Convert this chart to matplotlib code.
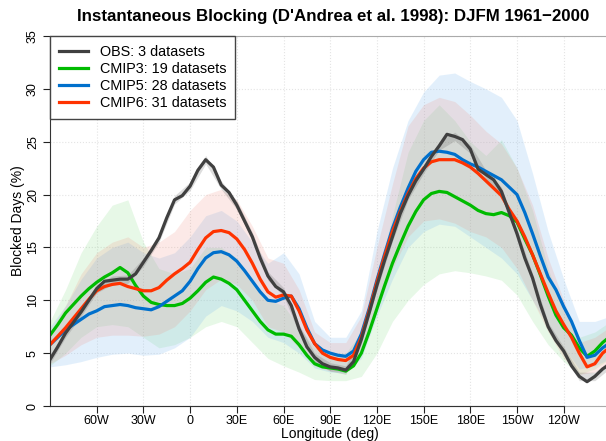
import matplotlib
matplotlib.use("Agg")
import matplotlib.pyplot as plt

# longitudes (deg east, 180..270 = 180W..90W)
lon = list(range(-90, 271, 5))
lon_band = list(range(-90, 271, 10))

obs = [4.4, 5.6, 6.9, 7.9, 8.9, 10.0, 11.1, 11.8, 11.9, 12.0, 12.0, 12.5, 13.6, 14.7, 15.9,
       17.8, 19.5, 19.9, 20.8, 22.3, 23.3, 22.6, 20.9, 20.2, 19.0, 17.5, 16.0, 14.0, 12.3,
       11.3, 10.8, 9.5, 7.3, 5.6, 4.6, 4.0, 3.7, 3.6, 3.4, 4.2, 6.3, 8.8, 11.4, 13.8, 16.0,
       18.2, 19.9, 21.3, 22.4, 23.6, 24.6, 25.7, 25.5, 25.2, 24.3, 22.4, 21.9, 21.4, 20.3,
       18.3, 16.3, 14.0, 12.1, 9.6, 7.5, 6.2, 5.2, 3.8, 2.8, 2.3, 2.8, 3.5, 4.0]
cmip3 = [6.7, 7.7, 8.8, 9.6, 10.4, 11.1, 11.7, 12.2, 12.6, 13.1, 12.6, 11.4, 10.4, 9.8, 9.6,
         9.5, 9.5, 9.7, 10.2, 10.9, 11.7, 12.2, 12.0, 11.6, 11.0, 10.0, 9.0, 8.0, 7.2,
         6.8, 6.8, 6.6, 5.8, 4.8, 4.0, 3.7, 3.6, 3.5, 3.3, 3.8, 5.0, 7.0, 9.2, 11.4, 13.5,
         15.3, 17.0, 18.4, 19.5, 20.1, 20.3, 20.2, 19.8, 19.4, 19.0, 18.5, 18.2, 18.1, 18.3,
         18.0, 17.4, 15.8, 14.3, 12.4, 10.4, 8.6, 7.4, 6.7, 5.5, 4.7, 5.2, 6.0, 6.6]
cmip5 = [5.8, 6.5, 7.2, 7.7, 8.2, 8.7, 9.0, 9.4, 9.5, 9.6, 9.5, 9.3, 9.2, 9.1, 9.4,
         9.9, 10.4, 10.9, 11.8, 13.0, 14.0, 14.5, 14.6, 14.3, 13.7, 12.8, 11.8, 10.8, 10.0,
         9.9, 10.2, 10.4, 9.2, 7.4, 5.9, 5.3, 5.0, 4.8, 4.7, 5.2, 6.8, 9.2, 11.9, 14.4, 16.8,
         18.8, 20.6, 22.2, 23.3, 24.0, 24.1, 24.0, 23.8, 23.3, 22.9, 22.6, 22.2, 21.8, 21.4,
         20.7, 20.0, 18.3, 16.3, 14.2, 12.2, 11.0, 9.4, 8.0, 6.2, 4.6, 4.8, 5.5, 6.0]
cmip6 = [5.8, 6.6, 7.4, 8.3, 9.2, 10.1, 10.9, 11.3, 11.5, 11.6, 11.3, 11.1, 10.9, 10.9, 11.2,
         11.9, 12.5, 13.0, 13.6, 14.8, 15.9, 16.5, 16.6, 16.4, 15.8, 14.8, 13.5, 12.0, 10.8,
         10.3, 10.5, 10.4, 9.0, 7.2, 5.9, 5.0, 4.6, 4.4, 4.3, 4.8, 6.5, 9.0, 11.7, 14.2, 16.5,
         18.4, 20.1, 21.5, 22.5, 23.1, 23.3, 23.3, 23.3, 23.0, 22.6, 22.0, 21.3, 20.6, 19.9,
         18.6, 17.5, 16.0, 14.3, 12.5, 10.7, 9.0, 7.7, 6.5, 5.0, 3.7, 4.0, 5.0, 5.6]

# spread bands (10 deg steps)
obs_lo = [4.0, 6.5, 8.5, 10.7, 11.5, 11.6, 13.2, 15.5, 19.1, 20.4, 22.9, 20.5, 18.6, 15.6,
          11.9, 10.4, 6.9, 4.2, 3.3, 3.0, 5.9, 11.0, 15.6, 19.5, 22.0, 24.2, 25.1, 23.9,
          21.5, 19.9, 15.9, 11.7, 7.1, 4.8, 2.4, 2.4, 3.6]
obs_hi = [4.8, 7.3, 9.3, 11.5, 12.3, 12.4, 14.0, 16.3, 19.9, 21.2, 23.7, 21.3, 19.4, 16.4,
          12.7, 11.2, 7.7, 5.0, 4.1, 3.8, 6.7, 11.8, 16.4, 20.3, 22.8, 25.0, 25.9, 24.7,
          22.3, 20.7, 16.7, 12.5, 7.9, 5.6, 3.2, 3.2, 4.4]
cmip3_lo = [3.8, 5.0, 6.5, 7.5, 7.7, 7.5, 6.5, 5.5, 5.8, 6.5, 7.5, 8.0, 7.5, 6.0, 4.5, 3.8,
            3.2, 2.5, 2.4, 2.4, 2.8, 5.0, 8.0, 10.0, 11.5, 12.5, 12.8, 12.6, 12.3, 11.9,
            10.5, 8.0, 5.8, 4.2, 3.0, 3.5, 4.5]
cmip3_hi = [8.0, 11.0, 14.5, 17.0, 19.0, 19.5, 15.5, 13.0, 12.5, 13.0, 15.0, 15.0, 14.0,
            12.0, 10.0, 9.5, 7.5, 5.5, 5.0, 5.0, 7.0, 12.0, 18.0, 24.0, 27.0, 28.5, 27.0,
            25.0, 23.7, 25.2, 22.5, 18.5, 13.0, 9.0, 6.5, 7.0, 8.0]
cmip5_lo = [3.7, 3.9, 4.2, 4.6, 4.9, 5.0, 4.8, 4.9, 5.5, 6.5, 8.5, 9.5, 9.0, 8.0, 6.5, 6.0,
            5.0, 3.6, 3.2, 3.2, 4.5, 8.5, 12.0, 15.0, 16.5, 17.2, 17.0, 16.0, 15.0, 14.0,
            12.5, 10.0, 7.5, 5.5, 3.5, 3.8, 4.5]
cmip5_hi = [7.5, 9.5, 12.0, 14.0, 15.0, 15.5, 14.5, 14.0, 14.5, 16.0, 18.0, 18.5, 17.5,
            15.5, 13.5, 14.5, 12.5, 8.0, 6.5, 6.5, 9.0, 16.5, 22.5, 27.0, 29.7, 31.3, 31.5,
            30.7, 30.0, 29.2, 27.0, 22.0, 16.5, 12.0, 8.0, 8.0, 8.5]
cmip6_lo = [4.0, 4.8, 5.8, 6.5, 6.7, 6.7, 6.6, 6.8, 7.5, 9.0, 11.0, 12.0, 11.5, 10.0, 7.5,
            7.0, 5.5, 3.8, 3.3, 3.3, 5.0, 9.0, 13.0, 16.0, 17.5, 17.7, 17.3, 16.5, 16.0,
            15.0, 13.0, 10.0, 7.0, 4.5, 3.0, 3.2, 4.0]
cmip6_hi = [7.0, 9.5, 12.5, 14.5, 15.5, 16.0, 15.0, 15.5, 16.5, 18.5, 20.0, 20.5, 19.5,
            17.0, 14.0, 13.5, 11.0, 7.0, 6.0, 6.0, 8.5, 15.0, 21.0, 26.5, 28.5, 29.2, 28.8,
            27.5, 26.0, 24.8, 22.5, 19.0, 14.0, 10.0, 6.0, 6.5, 7.5]

labels = ["OBS: 3 datasets", "CMIP3: 19 datasets", "CMIP5: 28 datasets", "CMIP6: 31 datasets"]
line_cols = ["#404040", "#00bb00", "#0070cc", "#ff3300"]
band_cols = ["#555555", "#5fd35f", "#7ab8f0", "#f08a7a"]
band_alpha = [0.2, 0.15, 0.21, 0.18]

xticks = [-60, -30, 0, 30, 60, 90, 120, 150, 180, 210, 240]
xticklabels = ["60W", "30W", "0", "30E", "60E", "90E", "120E", "150E", "180E", "150W", "120W"]
yticks = [0, 5, 10, 15, 20, 25, 30, 35]

plt.rcParams['font.family'] = ['Liberation Sans', 'DejaVu Sans']

fig = plt.figure(figsize=(6.06, 4.41), dpi=100)
ax = fig.add_axes([50 / 606, 35 / 441, 560.4 / 606, 370 / 441])

lows = [obs_lo, cmip3_lo, cmip5_lo, cmip6_lo]
highs = [obs_hi, cmip3_hi, cmip5_hi, cmip6_hi]
for lo, hi, c, a in zip(lows[1:], highs[1:], band_cols[1:], band_alpha[1:]):
    ax.fill_between(lon_band, lo, hi, color=c, alpha=a, lw=0)
ax.fill_between(lon_band, obs_lo, obs_hi, color=band_cols[0], alpha=band_alpha[0], lw=0)

series = [obs, cmip3, cmip5, cmip6]
for i in [1, 2, 3, 0]:
    ax.plot(lon, series[i], color=line_cols[i], lw=2.3, solid_joinstyle='round')

ax.set_xlim(-90, 270)
ax.set_ylim(0, 35)
ax.set_xticks(xticks)
ax.set_xticklabels(xticklabels, fontsize=9)
ax.set_yticks(yticks)
ax.set_yticklabels([str(v) for v in yticks], fontsize=9, rotation=90, va='center')
ax.tick_params(axis='both', direction='out', length=5, width=0.8, color='#222222')
ax.tick_params(axis='x', pad=1.5)
ax.tick_params(axis='y', pad=3)
ax.grid(True, color='#e4e4e4', linestyle=':', linewidth=0.8)
ax.set_axisbelow(True)

for s in ['top', 'right']:
    ax.spines[s].set_color('#aaaaaa')
ax.spines['left'].set_color('#333333')
ax.spines['bottom'].set_color('#333333')
ax.spines['bottom'].set_bounds(-90, 240)
ax.axhline(0, color='#aaaaaa', lw=0.8, zorder=0.5, clip_on=False)

ax.set_xlabel("Longitude (deg)", fontsize=10, labelpad=0)
ax.set_ylabel("Blocked Days (%)", fontsize=10, labelpad=1)
fig.text(333 / 606, 1 - 17 / 441, "Instantaneous Blocking (D'Andrea et al. 1998): DJFM 1961\u22122000",
         ha='center', va='center', fontsize=12.2, fontweight='bold')

handles = [plt.Line2D([], [], color=c, lw=2.3) for c in line_cols]
leg = ax.legend(handles, labels, loc='upper left', fontsize=10.4, frameon=True, fancybox=False,
                borderaxespad=0, handlelength=2.0, handletextpad=0.85, labelspacing=0.22,
                borderpad=0.6)
leg.get_frame().set_edgecolor('#444444')
leg.get_frame().set_linewidth(1.0)
leg.get_frame().set_alpha(1)

fig.savefig("out.png", dpi=100)
